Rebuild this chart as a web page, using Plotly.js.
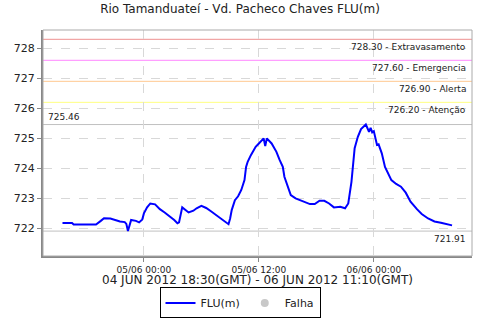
<!DOCTYPE html>
<html>
<head>
<meta charset="utf-8">
<script src="https://cdn.plot.ly/plotly-3.0.1.min.js"></script>
<style>html,body{margin:0;padding:0;background:#fff;}#chart{width:480px;height:320px;}</style>
</head>
<body>
<div id="chart"></div>
<script>
// Local time (GMT-3) timestamps of the FLU(m) readings
const times = [
  '2012-06-04 15:30','2012-06-04 16:30','2012-06-04 16:40','2012-06-04 19:00','2012-06-04 19:30',
  '2012-06-04 19:50','2012-06-04 20:30','2012-06-04 21:00','2012-06-04 21:30','2012-06-04 22:00',
  '2012-06-04 22:10','2012-06-04 22:20','2012-06-04 22:30','2012-06-04 22:40','2012-06-04 23:10',
  '2012-06-04 23:30','2012-06-04 23:50','2012-06-05 00:00','2012-06-05 00:20','2012-06-05 00:40',
  '2012-06-05 01:10','2012-06-05 01:40','2012-06-05 02:10','2012-06-05 02:40','2012-06-05 03:10',
  '2012-06-05 03:30','2012-06-05 03:40','2012-06-05 04:00','2012-06-05 04:20','2012-06-05 04:40',
  '2012-06-05 05:10','2012-06-05 05:30','2012-06-05 06:00','2012-06-05 06:30','2012-06-05 07:00',
  '2012-06-05 07:30','2012-06-05 07:50','2012-06-05 08:20','2012-06-05 08:40','2012-06-05 08:50',
  '2012-06-05 09:00','2012-06-05 09:10','2012-06-05 09:30','2012-06-05 09:50','2012-06-05 10:10',
  '2012-06-05 10:30','2012-06-05 10:40','2012-06-05 10:50','2012-06-05 11:10','2012-06-05 11:40',
  '2012-06-05 12:00','2012-06-05 12:20','2012-06-05 12:30','2012-06-05 12:40','2012-06-05 12:50',
  '2012-06-05 13:20','2012-06-05 13:50','2012-06-05 14:10','2012-06-05 14:30','2012-06-05 14:40',
  '2012-06-05 15:00','2012-06-05 15:20','2012-06-05 15:50','2012-06-05 16:30','2012-06-05 17:20',
  '2012-06-05 17:50','2012-06-05 18:20','2012-06-05 18:50','2012-06-05 19:20','2012-06-05 19:50',
  '2012-06-05 20:30','2012-06-05 21:00','2012-06-05 21:20','2012-06-05 21:40','2012-06-05 21:50',
  '2012-06-05 22:00','2012-06-05 22:20','2012-06-05 22:40','2012-06-05 23:10','2012-06-05 23:30',
  '2012-06-05 23:40','2012-06-05 23:50','2012-06-06 00:00','2012-06-06 00:20','2012-06-06 00:30',
  '2012-06-06 00:50','2012-06-06 01:10','2012-06-06 01:30','2012-06-06 01:50','2012-06-06 02:20',
  '2012-06-06 02:50','2012-06-06 03:20','2012-06-06 03:50','2012-06-06 04:30','2012-06-06 05:00',
  '2012-06-06 05:40','2012-06-06 06:20','2012-06-06 07:00','2012-06-06 07:40','2012-06-06 08:10'
];
const levels = [
  722.18,722.18,722.13,722.13,722.25,
  722.34,722.33,722.27,722.23,722.21,
  722.15,721.91,722.10,722.28,722.25,
  722.20,722.30,722.50,722.70,722.83,
  722.80,722.64,722.53,722.41,722.28,
  722.17,722.20,722.70,722.62,722.53,
  722.59,722.67,722.75,722.68,722.57,
  722.45,722.35,722.23,722.17,722.14,
  722.33,722.61,722.94,723.07,723.28,
  723.61,724.05,724.22,724.44,724.72,
  724.83,724.94,725.00,724.74,725.00,
  724.83,724.55,724.28,724.05,723.72,
  723.39,723.11,723.00,722.91,722.81,
  722.81,722.92,722.92,722.83,722.70,
  722.72,722.67,722.83,723.55,724.11,
  724.67,725.05,725.31,725.46,725.22,
  725.35,725.20,725.24,724.78,724.80,
  724.50,724.05,723.85,723.61,723.48,
  723.39,723.19,722.89,722.64,722.48,
  722.33,722.23,722.19,722.13,722.10
];
const thresholdValues = [728.30, 727.60, 726.90, 726.20];
const thresholdNames = ['Extravasamento', 'Emergencia', 'Alerta', 'Atenção'];
const thresholdColors = ['#ee9090', '#ff88ff', '#ffc890', '#ffff80'];
const yTicks = [722, 723, 724, 725, 726, 727, 728];
// "Falha" (failure) readings: none in this period
const failTimes = [times[0]];
const failLevels = [null];

const maxV = Math.max(...levels);
const minV = Math.min(...levels);

const shapes = [];
const annotations = [];
thresholdValues.forEach((v, i) => {
  shapes.push({type:'line', xref:'paper', x0:0, x1:1, yref:'y', y0:v, y1:v,
    line:{color:thresholdColors[i], width:1}, layer:'below'});
  annotations.push({xref:'paper', x:0.99, yref:'y', y:v, xanchor:'right', yanchor:'top', yshift:-1,
    showarrow:false, text:v.toFixed(2) + ' - ' + thresholdNames[i],
    font:{family:'DejaVu Sans', size:9, color:'#222'}});
});
shapes.push({type:'line', xref:'paper', x0:0, x1:1, yref:'y', y0:maxV, y1:maxV,
  line:{color:'#c0c0c0', width:1}, layer:'below'});
shapes.push({type:'line', xref:'paper', x0:0, x1:1, yref:'y', y0:minV, y1:minV,
  line:{color:'#c0c0c0', width:1}, layer:'below'});
annotations.push({xref:'paper', x:0.006, yref:'y', y:maxV, xanchor:'left', yanchor:'bottom', yshift:1,
  showarrow:false, text:maxV.toFixed(2), font:{family:'DejaVu Sans', size:9, color:'#222'}});
annotations.push({xref:'paper', x:0.99, yref:'y', y:minV, xanchor:'right', yanchor:'top', yshift:-1,
  showarrow:false, text:minV.toFixed(2), font:{family:'DejaVu Sans', size:9, color:'#222'}});
shapes.push({type:'rect', xref:'paper', yref:'paper', x0:0, x1:1, y0:0, y1:1,
  line:{color:'#aaaaaa', width:1}, layer:'above'});

const data = [
  {x: times, y: levels, type:'scatter', mode:'lines', name:'FLU(m)',
   line:{color:'#0000ff', width:2}},
  {x: failTimes, y: failLevels, type:'scatter', mode:'markers', name:'Falha',
   marker:{color:'#c8c8c8', size:8}}
];

const layout = {
  width:480, height:320,
  margin:{l:43, r:8, t:30, b:64},
  paper_bgcolor:'#fff', plot_bgcolor:'#fff',
  font:{family:'DejaVu Sans', size:10, color:'#222'},
  title:{text:'Rio Tamanduateí - Vd. Pacheco Chaves FLU(m)', xref:'container', x:0.5, xanchor:'center',
    yref:'container', y:0.973, yanchor:'middle', font:{family:'DejaVu Sans', size:12, color:'#222'}},
  xaxis:{type:'date', range:['2012-06-04 13:28','2012-06-06 10:15'],
    tick0:'2012-06-05 00:00', dtick:43200000, tickformat:'%d/%m %H:%M',
    ticks:'outside', ticklen:4, tickcolor:'#888',
    showgrid:true, gridcolor:'#d8d8d8', griddash:'dash',
    showline:true, linecolor:'#888', linewidth:2, zeroline:false,
    tickfont:{family:'DejaVu Sans', size:9, color:'#222'},
    title:{text:'04 JUN 2012 18:30(GMT) - 06 JUN 2012 11:10(GMT)', standoff:4,
      font:{family:'DejaVu Sans', size:12, color:'#222'}}},
  yaxis:{range:[721.08, 728.61], tickvals:yTicks,
    ticks:'outside', ticklen:4, tickcolor:'#888',
    showgrid:true, gridcolor:'#d8d8d8', griddash:'dash',
    showline:true, linecolor:'#888', linewidth:2, zeroline:false,
    tickfont:{family:'DejaVu Sans', size:11, color:'#222'}},
  showlegend:true,
  legend:{orientation:'h', x:0.5, xanchor:'center', xref:'container', y:0.005, yref:'container', yanchor:'bottom',
    bordercolor:'#000', borderwidth:1, bgcolor:'#fff', tracegroupgap:0, itemclick:false,
    font:{family:'DejaVu Sans', size:11, color:'#222'}, itemwidth:30},
  shapes: shapes,
  annotations: annotations
};

Plotly.newPlot('chart', data, layout, {displayModeBar:false, staticPlot:true});
</script>
</body>
</html>
